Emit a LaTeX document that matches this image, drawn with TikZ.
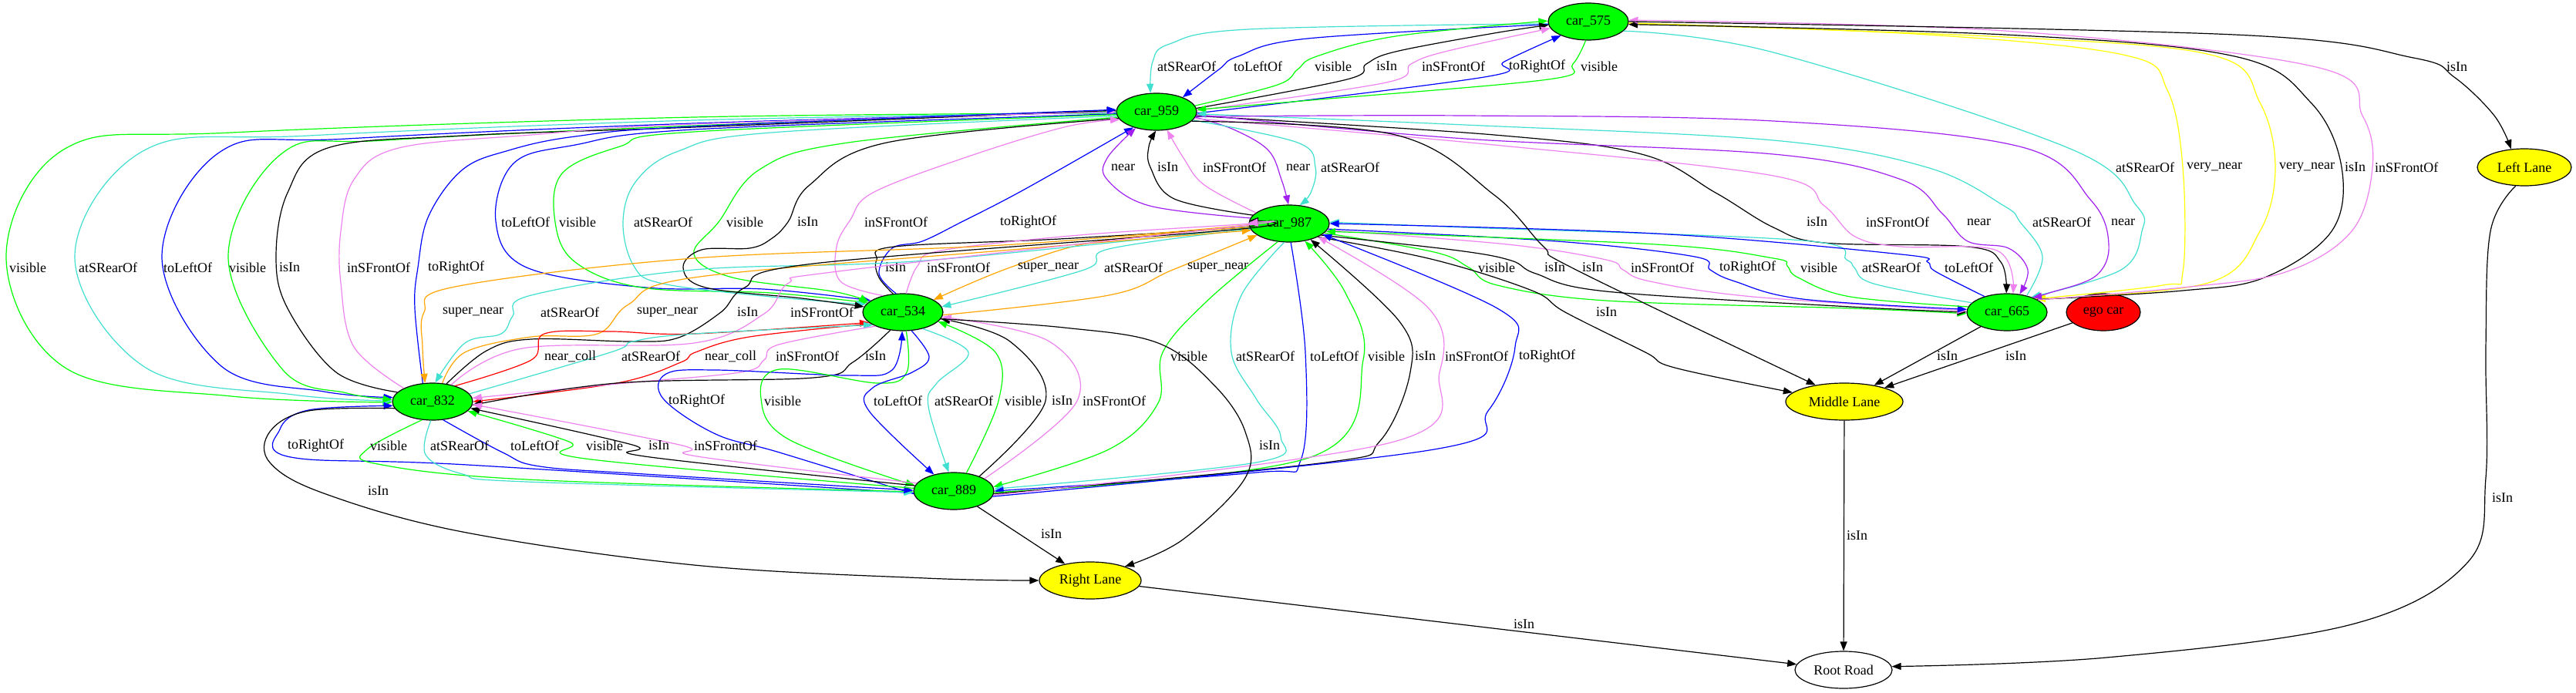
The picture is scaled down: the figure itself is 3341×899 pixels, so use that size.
\documentclass[tikz,border=0pt]{standalone}
\usepackage{fontspec}
\setmainfont{Liberation Serif}
\usetikzlibrary{arrows.meta,shapes.geometric}
\definecolor{gvgreen}{HTML}{00FF00}
\definecolor{gvturq}{HTML}{40E0D0}
\definecolor{gvviolet}{HTML}{EE82EE}
\definecolor{gvpurple}{HTML}{A020F0}
\definecolor{gvorange}{HTML}{FFA500}
\definecolor{gvyellow}{HTML}{FFFF00}
\definecolor{gvblue}{HTML}{0000FF}
\definecolor{gvred}{HTML}{FF0000}
\tikzset{
 gnode/.style={ellipse, draw=black, line width=1.2pt, inner sep=0pt, minimum height=48pt, font=\fontsize{18}{20}\selectfont},
 car/.style={gnode, fill=gvgreen, minimum width=104pt},
 lane/.style={gnode, fill=gvyellow},
 rel/.style={line width=1.2pt, -{Triangle[length=12pt,width=9pt]}},
 lbl/.style={anchor=west, inner sep=0pt, font=\fontsize{18}{20}\selectfont},
}
\newcommand\gvedge[2]{\draw[rel,#1] plot[smooth,tension=0.6] coordinates {#2};}
\newcommand\elab[3]{\node[lbl] (t-#1-#2) at (#1,#2) {#3};}
\begin{document}
\begin{tikzpicture}[x=1pt,y=-1pt]
\path[use as bounding box, fill=white] (0,0) rectangle (3341,899);
% nodes
\node[car] (n575) at (2060,28) {car\_575};
\node[car] (n959) at (1500,145) {car\_959};
\node[car] (n987) at (1672,290) {car\_987};
\node[car] (n534) at (1171,405) {car\_534};
\node[car] (n665) at (2603,405) {car\_665};
\node[gnode, fill=gvred, minimum width=96pt] (nego) at (2728,405) {ego car};
\node[car] (n832) at (561,521) {car\_832};
\node[lane, minimum width=152pt] (nML) at (2392,521) {Middle Lane};
\node[car] (n889) at (1237,637) {car\_889};
\node[lane, minimum width=122pt] (nLL) at (3274,217) {Left Lane};
\node[lane, minimum width=132pt] (nRL) at (1414,753) {Right Lane};
\node[gnode, fill=white, minimum width=126pt] (nRR) at (2391,869) {Root Road};

% A: 575 <-> 959
\gvedge{gvturq}{(n575.183) (1619,38) (1517,57) (1495,80) (n959.108)}
\gvedge{gvblue}{(n575.184) (1696,50) (1606,73) (1581,90) (n959.29)}
\gvedge{gvgreen}{(n959.9) (1657,110) (1683,90) (1708,73) (1810,47) (n575.179)}
\gvedge{black}{(n959.5) (1747,103) (1772,83) (1810,67) (1938,43) (n575.185)}
\gvedge{gvviolet}{(n959.2) (1798,107) (1830,83) (1874,67) (n575.190)}
\gvedge{gvblue}{(n959.358) (1925,100) (1951,80) (n575.207)}
\gvedge{gvgreen}{(n575.262) (2040,83) (2008,103) (1700,130) (n959.3)}
\elab{1501}{86}{atSRearOf}
\elab{1600}{86}{toLeftOf}
\elab{1705}{86}{visible}
\elab{1785}{86}{isIn}
\elab{1844}{86}{inSFrontOf}
\elab{1957}{86}{toRightOf}
\elab{2050}{86}{visible}

% B: 575 <-> 665, 575 -> Left Lane
\gvedge{gvturq}{(n575.345) (2300,68) (2685,193) (2771,267) (2778,300) (2751,350) (n665.32)}
\gvedge{gvyellow}{(n575.358) (2500,45) (2758,72) (2811,117) (2831,217) (2831,353) (2805,370) (n665.25)}
\gvedge{gvyellow}{(n575.357) (2600,48) (2871,72) (2931,133) (2951,217) (2931,300) (2864,367) (n665.24)}
\gvedge{black}{(n665.23) (2831,377) (2937,360) (3024,300) (3037,217) (2997,133) (2898,73) (2600,45) (n575.356)}
\gvedge{gvviolet}{(n665.22) (2831,373) (2964,353) (3050,300) (3077,217) (3064,150) (3004,87) (2600,40) (n575.2)}
\gvedge{black}{(n575.0) (2898,45) (3130,75) (3183,100) (3235,150) (nLL.126)}
\elab{2744}{217}{atSRearOf}
\elab{2836}{217}{very\_near}
\elab{2956}{217}{very\_near}
\elab{3041}{217}{isIn}
\elab{3080}{217}{inSFrontOf}
\elab{3173}{87}{isIn}

% C: 959 <-> 832
\gvedge{gvgreen}{(n959.182) (900,152) (300,172) (86,192) (8,333) (86,478) (300,514) (n832.181)}
\gvedge{gvturq}{(n959.181) (900,156) (400,176) (189,194) (97,333) (189,477) (380,512) (n832.179)}
\gvedge{gvblue}{(n959.180) (900,160) (450,180) (287,196) (210,333) (287,475) (420,508) (n832.174)}
\gvedge{gvgreen}{(n959.179) (900,163) (500,182) (367,198) (296,333) (367,480) (450,510) (n832.177)}
\gvedge{black}{(n832.165) (436,483) (373,400) (358,333) (373,250) (425,192) (600,176) (900,165) (n959.178)}
\gvedge{gvviolet}{(n832.155) (459,450) (442,367) (442,300) (459,233) (517,192) (689,175) (900,161) (n959.180)}
\gvedge{gvblue}{(n832.118) (538,400) (542,347) (556,280) (600,220) (660,195) (746,177) (900,164) (n959.177)}
\elab{12}{347}{visible}
\elab{102}{347}{atSRearOf}
\elab{212}{347}{toLeftOf}
\elab{297}{347}{visible}
\elab{362}{347}{isIn}
\elab{450}{347}{inSFrontOf}
\elab{555}{347}{toRightOf}

% D: 959 <-> 534
\gvedge{gvblue}{(n959.183) (900,168) (746,188) (666,212) (643,287) (683,347) (838,373) (990,375) (n534.160)}
\gvedge{gvgreen}{(n959.184) (900,171) (804,190) (729,225) (720,288) (746,340) (832,373) (1000,380) (n534.165)}
\gvedge{gvturq}{(n959.186) (1000,172) (880,196) (825,235) (808,288) (822,345) (860,368) (1000,385) (n534.168)}
\gvedge{gvgreen}{(n959.188) (1100,185) (985,220) (932,288) (900,330) (950,360) (1080,378) (n534.163)}
\gvedge{black}{(n959.190) (1150,185) (1050,240) (1022,288) (1000,310) (972,322) (910,324) (886,347) (915,373) (1040,387) (n534.172)}
\gvedge{gvviolet}{(n534.140) (1090,365) (1085,320) (1103,285) (1132,250) (1250,205) (1380,165) (n959.192)}
\gvedge{gvblue}{(n534.110) (1140,355) (1157,322) (1196,313) (1247,288) (1330,245) (n959.214)}
\elab{650}{288}{toLeftOf}
\elab{725}{288}{visible}
\elab{822}{288}{atSRearOf}
\elab{942}{288}{visible}
\elab{1034}{288}{isIn}
\elab{1121}{288}{inSFrontOf}
\elab{1297}{288}{toRightOf}

% E: 959 <-> 987
\gvedge{gvpurple}{(n987.172) (1491,267) (1436,233) (1436,205) (n959.218)}
\gvedge{black}{(n987.167) (1523,258) (1492,217) (1490,190) (n959.268)}
\gvedge{gvviolet}{(n987.162) (1562,240) (1535,205) (n959.300)}
\gvedge{gvpurple}{(n959.352) (1600,168) (1645,195) (1662,233) (n987.92)}
\gvedge{gvturq}{(n959.347) (1683,185) (1706,217) (1700,250) (n987.60)}
\elab{1441}{217}{near}
\elab{1501}{217}{isIn}
\elab{1560}{217}{inSFrontOf}
\elab{1668}{217}{near}
\elab{1713}{217}{atSRearOf}

% F: 959 <-> 665
\gvedge{black}{(n959.354) (1938,175) (2129,200) (2225,250) (2300,295) (2366,315) (2552,320) (2595,340) (n665.92)}
\gvedge{gvviolet}{(n959.350) (1938,188) (2300,228) (2366,267) (2406,307) (2466,320) (2590,325) (n665.72)}
\gvedge{gvpurple}{(n959.356) (1900,180) (2300,200) (2466,233) (2519,277) (2552,313) (2605,322) (2630,350) (n665.55)}
\gvedge{gvturq}{(n665.40) (2649,333) (2620,288) (2599,267) (2499,217) (2300,182) (1900,162) (n959.357)}
\gvedge{gvpurple}{(n959.353) (1900,150) (2300,157) (2619,190) (2712,260) (2735,317) (2718,358) (2658,380) (n665.30)}
\elab{2343}{288}{isIn}
\elab{2420}{288}{inSFrontOf}
\elab{2551}{288}{near}
\elab{2636}{288}{atSRearOf}
\elab{2738}{288}{near}

% G: 987 <-> 665
\gvedge{gvgreen}{(n987.345) (1860,327) (1905,347) (1942,370) (2083,390) (2400,400) (n665.182)}
\gvedge{black}{(n987.340) (1891,325) (1960,338) (1992,355) (2083,378) (2400,398) (n665.180)}
\gvedge{gvviolet}{(n987.350) (1955,317) (2083,337) (2105,350) (2140,365) (2274,385) (n665.178)}
\gvedge{gvblue}{(n987.352) (2019,313) (2198,333) (2218,350) (2250,365) (2338,388) (n665.176)}
\gvedge{gvgreen}{(n665.172) (2400,385) (2332,360) (2318,345) (2300,335) (2147,317) (n987.348)}
\gvedge{gvturq}{(n665.165) (2430,368) (2405,347) (2395,337) (2338,312) (1900,295) (n987.2)}
\gvedge{gvblue}{(n665.145) (2510,352) (2500,340) (2466,330) (2147,303) (n987.0)}
\elab{1917}{347}{visible}
\elab{2003}{347}{isIn}
\elab{2115}{347}{inSFrontOf}
\elab{2230}{347}{toRightOf}
\elab{2335}{347}{visible}
\elab{2415}{347}{atSRearOf}
\elab{2522}{347}{toLeftOf}

% H: to Middle Lane
\gvedge{black}{(n987.335) (1860,337) (1987,377) (2030,405) (2134,457) (2172,477) (nML.170)}
\gvedge{black}{(n959.345) (1810,175) (1938,253) (2002,320) (2044,350) (nML.150)}
\elab{2070}{405}{isIn}
\elab{2052}{347}{isIn}

% I: 534 <-> 987
\gvedge{black}{(n534.118) (1140,360) (1137,337) (1160,320) (1374,310) (1610,295) (n987.178)}
\gvedge{gvviolet}{(n534.80) (1190,345) (1221,325) (1400,305) (1610,291) (n987.180)}
\gvedge{gvorange}{(n987.185) (1425,313) (1310,347) (n534.22)}
\gvedge{gvturq}{(n987.188) (1438,323) (1406,350) (n534.8)}
\gvedge{gvorange}{(n534.356) (1438,383) (1521,350) (n987.200)}
\elab{1148}{347}{isIn}
\elab{1202}{347}{inSFrontOf}
\elab{1320}{347}{super\_near}
\elab{1432}{347}{atSRearOf}
\elab{1540}{347}{super\_near}

% J: 987 <-> 832
\gvedge{gvorange}{(n987.182) (1300,318) (900,335) (590,372) (550,405) (548,450) (n832.112)}
\gvedge{gvturq}{(n987.186) (1200,338) (900,350) (689,383) (665,410) (650,433) (603,445) (n832.82)}
\gvedge{gvorange}{(n832.62) (603,457) (689,437) (775,433) (815,395) (900,360) (1300,325) (n987.190)}
\gvedge{black}{(n832.52) (631,455) (689,440) (821,443) (880,438) (935,405) (966,373) (1055,342) (1610,297) (n987.176)}
\gvedge{gvviolet}{(n832.42) (677,452) (900,445) (991,407) (1023,367) (1087,352) (1610,293) (n987.179)}
\elab{574}{405}{super\_near}
\elab{701}{405}{atSRearOf}
\elab{826}{405}{super\_near}
\elab{956}{405}{isIn}
\elab{1025}{405}{inSFrontOf}

% K: 832 <-> 534
\gvedge{gvred}{(n832.35) (689,467) (706,433) (792,430) (900,433) (n534.197)}
\gvedge{gvred}{(n534.200) (972,437) (902,457) (883,470) (800,497) (n832.0)}
\gvedge{gvturq}{(n832.12) (792,457) (821,443) (900,433) (n534.203)}
\gvedge{gvviolet}{(n534.207) (1010,447) (991,467) (960,483) (800,498) (n832.5)}
\gvedge{black}{(n534.235) (1106,470) (1055,490) (800,497) (n832.355)}
\elab{706}{462}{near\_coll}
\elab{806}{462}{atSRearOf}
\elab{914}{462}{near\_coll}
\elab{1006}{462}{inSFrontOf}
\elab{1122}{462}{isIn}

% L: 534 <-> 889
\gvedge{gvblue}{(n889.184) (1011,587) (928,563) (860,517) (864,485) (928,480) (1100,487) (1157,480) (n534.268)}
\gvedge{gvgreen}{(n534.280) (1176,483) (1138,497) (1011,479) (987,517) (1023,570) (n889.172)}
\gvedge{gvblue}{(n534.295) (1205,463) (1183,483) (1132,503) (1127,533) (n889.140)}
\gvedge{gvturq}{(n534.320) (1256,457) (1215,497) (1204,527) (n889.105)}
\gvedge{gvgreen}{(n889.55) (1295,520) (1291,457) (n534.345)}
\gvedge{black}{(n889.30) (1356,520) (1310,443) (n534.350)}
\gvedge{gvviolet}{(n889.22) (1397,520) (1361,443) (n534.353)}
\elab{867}{520}{toRightOf}
\elab{991}{520}{visible}
\elab{1133}{520}{toLeftOf}
\elab{1212}{520}{atSRearOf}
\elab{1303}{520}{visible}
\elab{1364}{520}{isIn}
\elab{1404}{520}{inSFrontOf}

% M: 832 <-> 889
\gvedge{gvblue}{(n889.183) (606,603) (377,593) (363,557) (400,532) (n832.186)}
\gvedge{gvgreen}{(n832.240) (476,583) (490,602) (683,622) (n889.181)}
\gvedge{gvturq}{(n832.265) (552,590) (600,615) (683,625) (n889.182)}
\gvedge{gvblue}{(n832.300) (652,587) (700,605) (836,615) (n889.179)}
\gvedge{gvgreen}{(n889.176) (759,595) (738,573) (n832.345)}
\gvedge{black}{(n889.172) (836,592) (820,577) (n832.350)}
\gvedge{gvviolet}{(n889.168) (904,592) (881,577) (n832.356)}
\elab{373}{578}{toRightOf}
\elab{480}{578}{visible}
\elab{558}{578}{atSRearOf}
\elab{662}{578}{toLeftOf}
\elab{760}{578}{visible}
\elab{841}{578}{isIn}
\elab{900}{578}{inSFrontOf}

% N: 987 <-> 889
\gvedge{gvgreen}{(n987.238) (1566,390) (1508,457) (1502,523) (1438,583) (n889.6)}
\gvedge{gvturq}{(n987.255) (1610,383) (1597,457) (1629,517) (1661,567) (1629,600) (n889.3)}
\gvedge{gvblue}{(n987.275) (1693,457) (1687,597) (1629,613) (n889.0)}
\gvedge{gvgreen}{(n889.358) (1700,593) (1768,467) (1745,380) (n987.312)}
\gvedge{black}{(n889.356) (1719,600) (1789,573) (1829,483) (1815,417) (n987.323)}
\gvedge{gvviolet}{(n889.354) (1808,573) (1867,483) (1853,400) (n987.335)}
\gvedge{gvblue}{(n889.352) (1860,583) (1930,533) (1965,450) (1942,400) (n987.342)}
\elab{1518}{462}{visible}
\elab{1603}{462}{atSRearOf}
\elab{1699}{462}{toLeftOf}
\elab{1774}{462}{visible}
\elab{1835}{462}{isIn}
\elab{1874}{462}{inSFrontOf}
\elab{1970}{462}{toRightOf}

% single edges
\gvedge{black}{(n534.350) (1380,425) (1502,445) (1575,500) (1615,560) (1615,620) (1534,700) (nRL.22)}
\draw[rel] (n889) -- (nRL);
\gvedge{black}{(n832.190) (400,533) (350,560) (350,600) (420,640) (600,690) (900,733) (1200,750) (nRL.180)}
\draw[rel] (nRL) -- (nRR);
\draw[rel] (nML) -- (nRR);
\gvedge{black}{(nLL.245) (3230,300) (3224,450) (3224,620) (3200,730) (3050,810) (2732,853) (nRR.4)}
\draw[rel] (n665) -- (nML);
\draw[rel] (nego) -- (nML);
\elab{1633}{578}{isIn}
\elab{1350}{693}{isIn}
\elab{477}{637}{isIn}
\elab{1963}{810}{isIn}
\elab{2395}{695}{isIn}
\elab{3232}{646}{isIn}
\elab{2512}{462}{isIn}
\elab{2601}{462}{isIn}
\end{tikzpicture}
\end{document}
